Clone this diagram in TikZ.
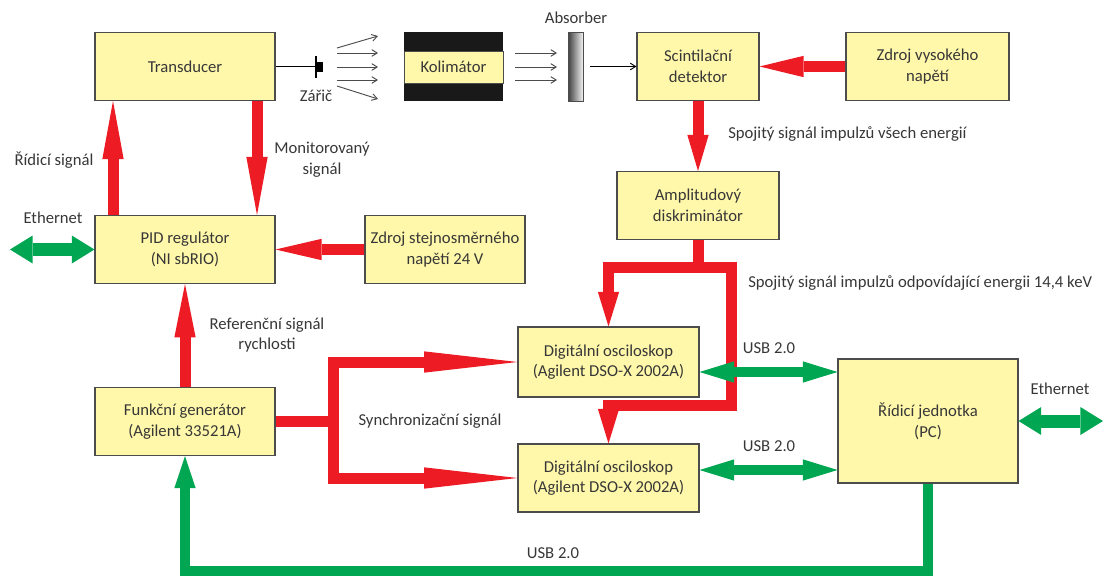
\documentclass[tikz,border=0pt]{standalone}
\usepackage{fontspec}
\setmainfont{Carlito}
\usetikzlibrary{arrows.meta}
\definecolor{boxfill}{RGB}{255,248,170}
\definecolor{sigred}{RGB}{237,28,36}
\definecolor{usbgreen}{RGB}{0,166,81}
\definecolor{txtgray}{RGB}{55,55,55}

\begin{document}
\begin{tikzpicture}[
    x=0.75pt, y=-0.75pt,
    every node/.style={font=\fontsize{12.5}{15.5}\selectfont, text=txtgray},
    box/.style={rectangle, draw=black!70, line width=0.8pt, fill=boxfill, align=center, inner sep=0pt, minimum width=135pt, minimum height=51pt},
    lbl/.style={align=center, inner sep=0pt},
    sig/.style={draw=sigred, line width=8.25pt, -{Triangle[length=#1, width=16pt, line width=0pt]}},
    sig/.default=26pt,
    eth/.style={draw=usbgreen, line width=9.75pt, {Triangle[length=17pt, width=21pt, line width=0pt]}-{Triangle[length=17pt, width=21pt, line width=0pt]}},
    usb/.style={draw=usbgreen, line width=7.5pt, {Triangle[length=26pt, width=16pt, line width=0pt]}-{Triangle[length=26pt, width=16pt, line width=0pt]}},
    usbto/.style={draw=usbgreen, line width=7.5pt, -{Triangle[length=24pt, width=16pt, line width=0pt]}},
    ray/.style={draw=black!70, line width=0.7pt, -{Straight Barb[length=4pt, width=5pt]}}
  ]
    \useasboundingbox (0,0) rectangle (1106,578);

    \node[box] (trans) at (185,66.5) {Transducer};
    \node[box] (pid) at (185,249.5) {PID regulátor\\(NI sbRIO)};
    \node[box] (fgen) at (185,421.5) {Funkční generátor\\(Agilent 33521A)};
    \node[box, minimum width=120pt] (zdroj) at (445,249.5) {Zdroj stejnosměrného\\napětí 24 V};
    \node[rectangle, fill=black!90, minimum width=74.25pt, minimum height=51.75pt, inner sep=0pt] (kolblk) at (453.5,66.5) {};
    \node[box, line width=0.5pt, minimum width=74.25pt, minimum height=24pt] (kol) at (453.5,67) {Kolimátor};
    \node[rectangle, draw=black!70, line width=0.6pt, left color=black!75, right color=black!5, minimum width=11.25pt, minimum height=51.75pt, inner sep=0pt] (absorber) at (575.5,66.5) {};
    \node[box, minimum width=91.5pt] (scint) at (698,66.5) {Scintilační\\detektor};
    \node[box, minimum width=122.25pt] (hv) at (927.5,66.5) {Zdroj vysokého\\napětí};
    \node[box, minimum width=121.5pt] (ampl) at (698,205.5) {Amplitudový\\diskriminátor};
    \node[box, minimum width=135.75pt, minimum height=52.5pt] (osc1) at (608.5,362) {Digitální osciloskop\\(Agilent DSO-X 2002A)};
    \node[box, minimum width=135.75pt] (osc2) at (608.5,478) {Digitální osciloskop\\(Agilent DSO-X 2002A)};
    \node[box, minimum height=93pt] (pc) at (928,421) {Řídicí jednotka\\(PC)};

    \node[lbl] (zaricl) at (316,96) {Zářič};
    \node[lbl] (absl) at (576,18) {Absorber};
    \node[lbl] (ridl) at (54,160) {Řídicí signál};
    \node[lbl] (monl) at (322,160) {Monitorovaný\\signál};
    \node[lbl] (eth1l) at (53,218) {Ethernet};
    \node[lbl] (refl) at (267,335) {Referenční signál\\rychlosti};
    \node[lbl, anchor=west] (sp1l) at (728,134) {Spojitý signál impulzů všech energií};
    \node[lbl, anchor=west] (sp2l) at (748,283) {Spojitý signál impulzů odpovídající energii 14,4 keV};
    \node[lbl] (usb1l) at (769,348) {USB 2.0};
    \node[lbl] (usb2l) at (769,446) {USB 2.0};
    \node[lbl] (eth2l) at (1060,389) {Ethernet};
    \node[lbl] (syncl) at (430,421) {Synchronizační signál};
    \node[lbl] (usb3l) at (553,553) {USB 2.0};

    \coordinate (zaric) at (316,66.5);
    \draw[line width=0.6pt] (trans.east) -- (zaric);
    \draw[line width=0.8pt] (316,56) -- (316,78);
    \fill (317,62) rectangle (323,72);
    \foreach \ya/\yb in {48/36,53/53,67/67,80/80,86/99}
      \draw[ray] (337,\ya) -- (378,\yb);
    \foreach \yy in {53,67,80}
      \draw[ray] (515,\yy) -- (557,\yy);
    \draw[ray, draw=black] ([xshift=5pt]absorber.east) -- (scint.west);

    \draw[sig=43.5pt] (pid.north -| 113,0) -- (trans.south -| 113,0);
    \draw[sig=43.5pt] (trans.south -| 257,0) -- (pid.north -| 257,0);
    \draw[sig=34.5pt] (zdroj.west) -- (pid.east);
    \draw[sig=40pt] (fgen.north) -- (pid.south);
    \draw[sig=33pt] (hv.west) -- (scint.east);
    \draw[sig=27pt] (scint.south) -- (ampl.north);
    \coordinate (split) at (698,267);
    \coordinate (loop) at (731,405);
    \draw[sig] (ampl.south) -- (split) -| (osc1.north);
    \draw[sig] (split) -| (loop) -| (osc2.north);
    \coordinate (sync) at (333,421.5);
    \draw[sig=70pt] (fgen.east) -- (sync) |- (osc1.west);
    \draw[sig=70pt] (sync) |- (osc2.west);

    \coordinate (eth1) at (10,249.5);
    \coordinate (eth2) at (1103,421);
    \draw[eth] (pid.west) -- (eth1);
    \draw[eth] (pc.east) -- (eth2);
    \draw[usb] (osc1.east |- 0,372) -- (pc.west |- 0,372);
    \draw[usb] (osc2.east |- 0,470) -- (pc.west |- 0,470);
    \draw[usbto] (pc.south) |- (fgen.south |- 0,571) -- (fgen.south);
\end{tikzpicture}
\end{document}
